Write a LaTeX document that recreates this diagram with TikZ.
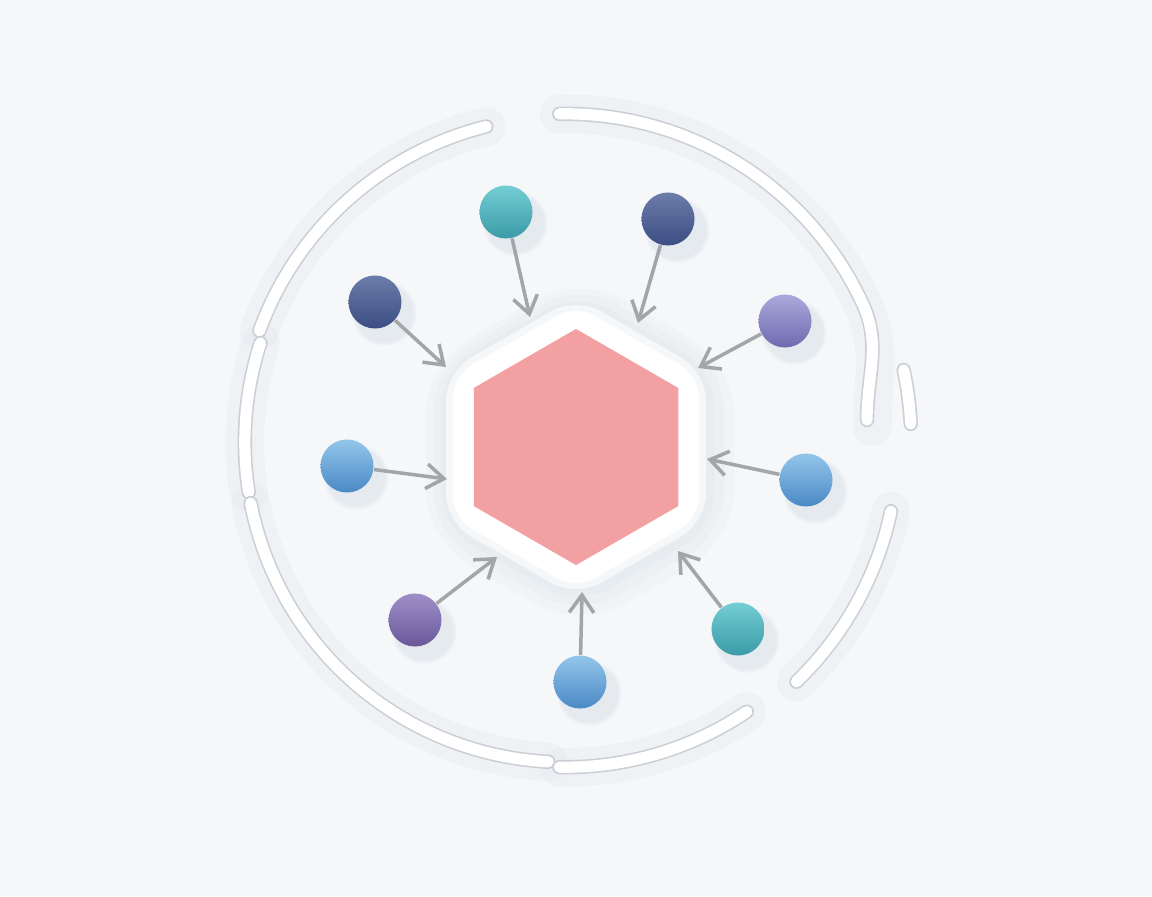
\documentclass[tikz,border=0pt]{standalone}
\usepackage{tikz}
\usetikzlibrary{shapes.geometric,shadows,arrows.meta}

\definecolor{fond}{HTML}{F5F7F9}
\definecolor{brume}{HTML}{C8D2DF}
\definecolor{trait}{HTML}{CBCED4}
\definecolor{fleche}{HTML}{A3A5A9}
\definecolor{rose}{HTML}{F2A0A2}
\definecolor{sarcelleh}{HTML}{74CDD4}
\definecolor{sarcelleb}{HTML}{3A9BA7}
\definecolor{marineh}{HTML}{6C7DAA}
\definecolor{marineb}{HTML}{3B4D82}
\definecolor{lavandeh}{HTML}{ABA9DB}
\definecolor{lavandeb}{HTML}{6D6BAE}
\definecolor{bleuh}{HTML}{94C6EB}
\definecolor{bleub}{HTML}{4A89C5}
\definecolor{violeth}{HTML}{9E8FC8}
\definecolor{violetb}{HTML}{6A5799}

\begin{document}
\begin{tikzpicture}[
      x=0.01cm, y=0.01cm,
      particule/.style={
        circle,
        inner sep=0pt,
        minimum size=0.53cm,
        circular drop shadow={shadow xshift=2pt, shadow yshift=-2.5pt,
          shadow scale=1.25, opacity=0.35, fill=brume}
      },
      sarcelle/.style={particule, top color=sarcelleh, bottom color=sarcelleb},
      marine/.style={particule, top color=marineh, bottom color=marineb},
      lavande/.style={particule, top color=lavandeh, bottom color=lavandeb},
      bleu/.style={particule, top color=bleuh, bottom color=bleub},
      violet/.style={particule, top color=violeth, bottom color=violetb},
      hexa/.style={
        regular polygon,
        regular polygon sides=6,
        shape border rotate=30,
        inner sep=0pt
      },
      lien/.style={draw=fleche, line width=1pt, -{Straight Barb[length=5pt,width=7pt]}},
      anneau/.style={draw=trait, line width=0.45pt, double=white, double distance=3.2pt, line cap=round},
      halo/.style={draw=brume, line width=11pt, opacity=0.12, line cap=round, xshift=1.5pt, yshift=-2pt}
    ]
      \fill[fond] (0,0) rectangle (1152,896);
      \useasboundingbox (0,0) rectangle (1152,896);
      \coordinate (c) at (565,454);

      % ombre de l'anneau
      \draw[halo] (c) ++(104:3.25cm) arc (104:160:3.25cm);
      \draw[halo] (c) ++(91:3.28cm) arc (91:25:3.28cm) to[out=-65,in=90] (867,476);
      \draw[halo] (c) ++(162:3.2cm) arc (162:189:3.2cm);
      \draw[halo] (c) ++(191:3.2cm) arc (191:267:3.2cm);
      \draw[halo] (c) ++(269:3.25cm) arc (269:304:3.25cm);
      \draw[halo] (c) ++(-12:3.33cm) arc (-12:-46:3.33cm);

      % anneau
      \draw[anneau] (c) ++(104:3.25cm) arc (104:160:3.25cm);
      \draw[anneau] (c) ++(91:3.28cm) arc (91:25:3.28cm) to[out=-65,in=90] (867,476);
      \draw[anneau] (c) ++(12:3.46cm) arc (12:3:3.46cm);
      \draw[anneau] (c) ++(162:3.2cm) arc (162:189:3.2cm);
      \draw[anneau] (c) ++(191:3.2cm) arc (191:267:3.2cm);
      \draw[anneau] (c) ++(269:3.25cm) arc (269:304:3.25cm);
      \draw[anneau] (c) ++(-12:3.33cm) arc (-12:-46:3.33cm);

      % hexagone central
      \node (voile3) at (580,444) [hexa, minimum size=3.55cm, fill=brume, opacity=0.08, rounded corners=14pt]{};
      \node (voile2) at (579,446) [hexa, minimum size=3.35cm, fill=brume, opacity=0.1, rounded corners=12pt]{};
      \node (voile1) at (578,447) [hexa, minimum size=3.15cm, fill=brume, opacity=0.12, rounded corners=10pt]{};
      \node (eclat2) at (576,449) [hexa, minimum size=3.0cm, fill=white, opacity=0.6, rounded corners=8pt]{};
      \node (eclat1) at (576,449) [hexa, minimum size=2.84cm, fill=white, rounded corners=6pt]{};
      \node (hex) at (576,449) [hexa, minimum size=2.36cm, fill=rose]{};

      \coordinate (t1) at (530,579);
      \coordinate (t2) at (638,573);
      \coordinate (t3) at (446,529);
      \coordinate (t4) at (698,528);
      \coordinate (t5) at (447,417);
      \coordinate (t6) at (707,437);
      \coordinate (t7) at (497,339);
      \coordinate (t8) at (582,304);
      \coordinate (t9) at (678,345);

      \node (p1) at (506,684) [sarcelle]{};
      \node (p2) at (668,677) [marine]{};
      \node (p3) at (375,594) [marine]{};
      \node (p4) at (785,575) [lavande]{};
      \node (p5) at (347,430) [bleu]{};
      \node (p6) at (806,416) [bleu]{};
      \node (p7) at (415,276) [violet]{};
      \node (p8) at (580,214) [bleu]{};
      \node (p9) at (738,267) [sarcelle]{};

      \draw[lien] (p1) -- (t1);
      \draw[lien] (p2) -- (t2);
      \draw[lien] (p3) -- (t3);
      \draw[lien] (p4) -- (t4);
      \draw[lien] (p5) -- (t5);
      \draw[lien] (p6) -- (t6);
      \draw[lien] (p7) -- (t7);
      \draw[lien] (p8) -- (t8);
      \draw[lien] (p9) -- (t9);

    \end{tikzpicture}
\end{document}
